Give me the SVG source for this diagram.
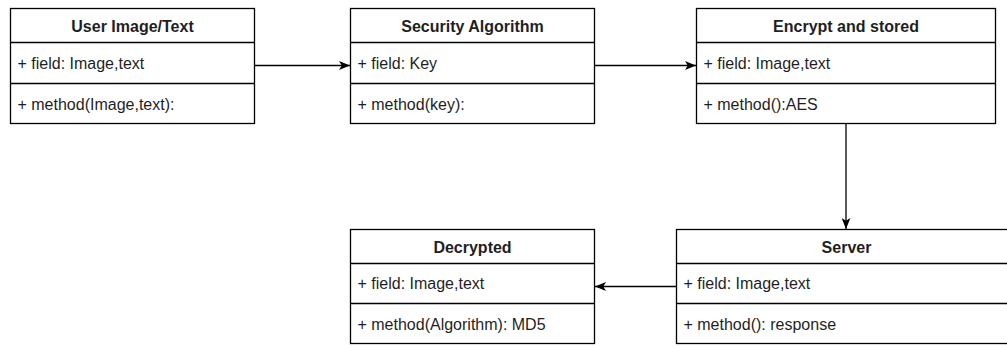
<svg xmlns="http://www.w3.org/2000/svg" width="1007" height="347" viewBox="0 0 1007 347">
  <style>
    .box { fill: #ffffff; stroke: #000000; stroke-width: 1.3; }
    .sep { stroke: #000000; stroke-width: 1.3; fill: none; }
    .title { font-family: "Liberation Sans", Arial, sans-serif; font-size: 16px; font-weight: bold; fill: #1f1f1f; text-anchor: middle; }
    .row { font-family: "Liberation Sans", Arial, sans-serif; font-size: 16px; fill: #1f1f1f; }
    .edge { stroke: #000000; stroke-width: 1.3; fill: none; marker-end: url(#arrow); }
  </style>
  <defs>
    <marker id="arrow" viewBox="0 0 10 8" refX="10" refY="4" markerWidth="11" markerHeight="9" markerUnits="userSpaceOnUse" orient="auto">
      <path d="M0,0 L10,4 L0,8 L2.5,4 Z" fill="#000000"/>
    </marker>
  </defs>

  <rect width="1007" height="347" fill="#ffffff"/>

  <!-- class: User Image/Text -->
  <g id="user-image-text">
    <rect class="box" x="10.5" y="8.5" width="244" height="115"/>
    <line class="sep" x1="10.5" y1="42.5" x2="254.5" y2="42.5"/>
    <line class="sep" x1="10.5" y1="83.5" x2="254.5" y2="83.5"/>
    <text class="title" x="132.5" y="32">User Image/Text</text>
    <text class="row" x="17.5" y="69">+ field: Image,text</text>
    <text class="row" x="17.5" y="110">+ method(Image,text):</text>
  </g>

  <!-- class: Security Algorithm -->
  <g id="security-algorithm">
    <rect class="box" x="350.5" y="8.5" width="244" height="115"/>
    <line class="sep" x1="350.5" y1="42.5" x2="594.5" y2="42.5"/>
    <line class="sep" x1="350.5" y1="83.5" x2="594.5" y2="83.5"/>
    <text class="title" x="472.5" y="32">Security Algorithm</text>
    <text class="row" x="357.5" y="69">+ field: Key</text>
    <text class="row" x="357.5" y="110">+ method(key):</text>
  </g>

  <!-- class: Encrypt and stored -->
  <g id="encrypt-and-stored">
    <rect class="box" x="696.5" y="8.5" width="299" height="115"/>
    <line class="sep" x1="696.5" y1="42.5" x2="995.5" y2="42.5"/>
    <line class="sep" x1="696.5" y1="83.5" x2="995.5" y2="83.5"/>
    <text class="title" x="846" y="32">Encrypt and stored</text>
    <text class="row" x="703.5" y="69">+ field: Image,text</text>
    <text class="row" x="703.5" y="110">+ method():AES</text>
  </g>

  <!-- class: Decrypted -->
  <g id="decrypted">
    <rect class="box" x="350.5" y="229.5" width="244" height="114"/>
    <line class="sep" x1="350.5" y1="263.5" x2="594.5" y2="263.5"/>
    <line class="sep" x1="350.5" y1="303.5" x2="594.5" y2="303.5"/>
    <text class="title" x="472.5" y="253">Decrypted</text>
    <text class="row" x="357.5" y="289">+ field: Image,text</text>
    <text class="row" x="357.5" y="330">+ method(Algorithm): MD5</text>
  </g>

  <!-- class: Server -->
  <g id="server">
    <rect class="box" x="676.5" y="229.5" width="340" height="114"/>
    <line class="sep" x1="676.5" y1="263.5" x2="1016.5" y2="263.5"/>
    <line class="sep" x1="676.5" y1="303.5" x2="1016.5" y2="303.5"/>
    <text class="title" x="846.5" y="253">Server</text>
    <text class="row" x="683.5" y="289">+ field: Image,text</text>
    <text class="row" x="683.5" y="330">+ method(): response</text>
  </g>

  <!-- associations -->
  <g id="connectors">
    <line class="edge" x1="254.5" y1="65.5" x2="350" y2="65.5"/>
    <line class="edge" x1="594.5" y1="65.5" x2="696" y2="65.5"/>
    <line class="edge" x1="846" y1="123.5" x2="846" y2="229"/>
    <line class="edge" x1="676.5" y1="286.5" x2="595" y2="286.5"/>
  </g>
</svg>
